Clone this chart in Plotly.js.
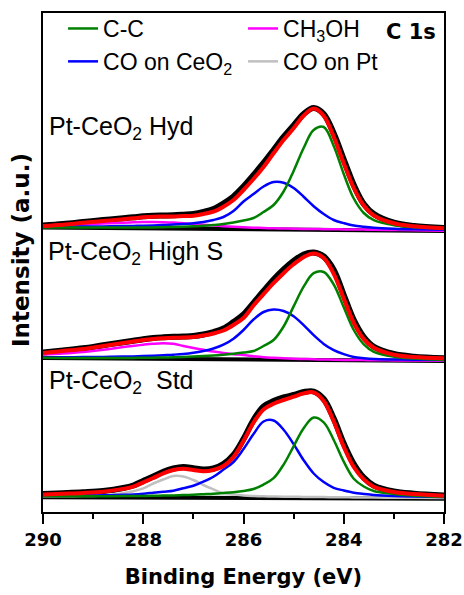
<!DOCTYPE html>
<html>
<head>
<meta charset="utf-8">
<script src="https://cdn.plot.ly/plotly-3.0.1.min.js"></script>
<style>html,body{margin:0;padding:0;background:#fff}#chart{width:464px;height:595px}</style>
</head>
<body>
<div id="chart"></div>
<script>
// Binding energy grid (eV)
const energy = [290, 289.6, 289.2, 288.8, 288.4, 288.2, 288.0, 287.8, 287.6, 287.4, 287.2, 287.0, 286.8, 286.6, 286.4, 286.2, 286.0, 285.8, 285.6, 285.4, 285.2, 285.0, 284.8, 284.6, 284.4, 284.2, 284.0, 283.8, 283.6, 283.4, 283.0, 282.6, 282.0];
const bgEnergy = [290, 282];

// Pt-CeO2 Hyd
const hydData  = [5.5, 7, 9, 11, 12.8, 13.7, 14.7, 15.3, 15.5, 15.7, 16.3, 17, 19, 22, 27.5, 34.5, 44.5, 56, 68, 81, 94, 105.5, 117, 123, 117, 97.5, 71.5, 46, 27, 17, 8.3, 5, 3];
const hydFit   = [5, 6.3, 8.2, 10, 11.8, 12.7, 13.7, 14.3, 14.4, 14.5, 15, 15.3, 17, 19.3, 24.3, 31, 41, 52, 64, 77.7, 91, 102.7, 115.3, 122.5, 115.3, 94.3, 67.7, 43, 25.5, 15.5, 7.7, 4.7, 2.7];
const hydCC    = [3.6, 3.5, 3.4, 3.4, 3.4, 3.5, 3.5, 3.6, 3.8, 4.0, 4.3, 4.7, 5.2, 6, 7, 8.5, 10.5, 13, 19, 26, 39.5, 60, 83, 101, 104, 85, 57, 32.5, 18, 10.8, 5.8, 3.8, 2.7];
const hydCOCe  = [4, 4.2, 4.4, 4.6, 4.9, 5.1, 5.3, 5.6, 6.0, 6.4, 7.0, 7.8, 9, 11, 14, 20, 29.5, 37, 44.5, 49, 48.3, 43, 34.3, 24.8, 17, 11, 7.9, 5.4, 4.2, 3.3, 2.3, 1.7, 1.2];
const hydMeOH  = [4.5, 5.5, 6.5, 7.5, 8.3, 8.7, 9, 9, 8.8, 8.4, 7.8, 7, 6.2, 5.5, 4.8, 4.2, 3.7, 3.3, 3.0, 2.7, 2.5, 2.3, 2.1, 2.0, 1.8, 1.7, 1.6, 1.5, 1.4, 1.3, 1.0, 0.7, 0.3];
const hydBg    = [3.5, 0];

// Pt-CeO2 High S
const hsData   = [8.5, 10.5, 12.7, 15.8, 18.8, 20.3, 21.8, 23, 23.7, 24.2, 24.5, 25, 26.5, 29, 32.5, 39, 46.5, 58, 70, 81.5, 91.5, 100, 106.5, 108.5, 104.5, 91, 66, 41, 24, 14.3, 7, 4.3, 2.8];
const hsFit    = [8, 10, 12, 15, 18, 19.5, 21, 22, 22.7, 23.2, 23.5, 24, 25.5, 27.5, 30.5, 36, 43, 55.5, 66.8, 77.8, 87.8, 96.7, 103.8, 107.5, 103, 87.2, 62.6, 38.2, 21.9, 13.3, 6.3, 4, 2.7];
const hsCC     = [3.2, 3.1, 3.0, 3.0, 3.0, 3.1, 3.2, 3.3, 3.5, 3.7, 4.0, 4.4, 4.9, 5.5, 6.3, 7.3, 8.5, 10, 15, 21, 34.5, 54.6, 74.3, 87.8, 89, 76.5, 53.7, 31, 16.6, 9.2, 4.3, 2.5, 1];
const hsCOCe   = [3.5, 3.7, 3.9, 4.1, 4.4, 4.6, 4.9, 5.3, 5.8, 6.3, 7.0, 8.2, 10, 12.5, 16.3, 22.3, 31, 41.5, 49, 51.5, 50, 44.8, 35.8, 25.8, 17.1, 10.9, 6.9, 4, 2.8, 2, 1.5, 1.2, 1];
const hsMeOH   = [6.5, 7.5, 9, 11.2, 14, 15.2, 16.3, 17.2, 17.7, 17.2, 15, 13, 11.2, 9.4, 7.9, 6.8, 6, 4.8, 3.8, 3.2, 2.7, 2.3, 2.0, 1.7, 1.5, 1.3, 1.1, 1.0, 0.9, 0.8, 0.6, 0.4, 0.2];
const hsBg     = [3, 0];

// Pt-CeO2 Std
const stdData  = [5, 5.8, 6.7, 8, 11, 13.5, 18, 22.5, 27.3, 30.5, 32, 30.8, 29.5, 30.5, 35, 44, 60, 79, 92.5, 98, 101.5, 104, 107, 107.5, 100, 80.5, 55.5, 35, 21.3, 13.3, 7.5, 5.3, 3.5];
const stdFit   = [4.5, 5.2, 6, 7.3, 10.1, 12.3, 16.7, 21, 25.7, 29, 30.3, 29, 27.7, 29, 33, 42, 58, 76.4, 89.6, 95.3, 99, 102.3, 105.6, 106.6, 98, 77.7, 52.3, 32, 19.6, 12.3, 7, 5, 3.3];
const stdCC    = [2.8, 2.8, 2.8, 2.8, 2.9, 3.0, 3.1, 3.2, 3.4, 3.6, 3.9, 4.3, 4.8, 5.3, 6, 6.8, 8, 10, 14.4, 20.8, 34.4, 52.7, 70.8, 81.4, 76.7, 59, 37.4, 20.3, 12.5, 8, 5, 3.3, 2];
const stdCOCe  = [3, 3.2, 3.4, 3.7, 4.2, 4.6, 5.3, 6.3, 7.3, 8.3, 10.7, 13.2, 17.3, 22.3, 29.4, 37, 50, 65, 77.5, 78.5, 69.3, 54.9, 38.8, 25.5, 16.9, 11.2, 8.5, 6.3, 5, 4, 3, 2.5, 2];
const stdCOPt  = [2.6, 2.7, 2.9, 3.5, 5.7, 7.7, 10.6, 15.5, 19.5, 23, 22.5, 19, 14, 9.7, 5.7, 4.5, 3.5, 3.0, 2.7, 2.5, 2.3, 2.2, 2.1, 2.0, 1.9, 1.8, 1.7, 1.6, 1.5, 1.4, 1.3, 1.2, 1.0];
const stdBg    = [1.8, 0.3];

// labels
const panelLabels = ['Pt-CeO<sub>2</sub> Hyd', 'Pt-CeO<sub>2</sub> High S', 'Pt-CeO<sub>2</sub>&nbsp; Std'];
const compNames = {cc: 'C-C', meoh: 'CH<sub>3</sub>OH', coce: 'CO on CeO<sub>2</sub>', copt: 'CO on Pt'};

// stacking offsets (vertical position of each spectrum)
const offsets = {hyd: 281, hs: 151, std: 13};
const labelY = {hyd: 384, hs: 259, std: 130};

const COL = {data: '#000000', fit: '#ff0000', cc: '#008000', coce: '#0000ff', meoh: '#ff00ff', copt: '#c0c0c0', bg: '#000000'};

function shift(arr, off) { return arr.map(v => v + off); }
const traces = [];
function line(x, y, color, width, name, show, rank) {
  traces.push({x: x, y: y, type: 'scatter', mode: 'lines', name: name || '',
    line: {color: color, width: width, shape: 'spline', smoothing: 1},
    showlegend: !!show, legendrank: rank || 1000, hoverinfo: 'skip'});
}
function panel(off, data, fit, cc, coce, third, thirdKey, bg, legendFor) {
  line(energy, shift(data, off), COL.data, 6);
  line(bgEnergy, shift(bg, off), COL.bg, 4);
  line(energy, shift(third, off), COL[thirdKey], 2.5, compNames[thirdKey], legendFor.includes(thirdKey), thirdKey === 'meoh' ? 2 : 4);
  line(energy, shift(coce, off), COL.coce, 2.5, compNames.coce, legendFor.includes('coce'), 3);
  line(energy, shift(cc, off), COL.cc, 2.5, compNames.cc, legendFor.includes('cc'), 1);
  line(energy, shift(fit, off), COL.fit, 4);
}
panel(offsets.hyd, hydData, hydFit, hydCC, hydCOCe, hydMeOH, 'meoh', hydBg, ['cc', 'coce', 'meoh']);
panel(offsets.hs, hsData, hsFit, hsCC, hsCOCe, hsMeOH, 'meoh', hsBg, []);
panel(offsets.std, stdData, stdFit, stdCC, stdCOCe, stdCOPt, 'copt', stdBg, ['copt']);

const layout = {
  width: 464, height: 595,
  margin: {l: 43, r: 20, t: 13, b: 83, autoexpand: false},
  paper_bgcolor: '#fff', plot_bgcolor: '#fff',
  showlegend: true,
  legend: {orientation: 'h', x: 0.05, xanchor: 'left', y: 1.012, yanchor: 'top',
    entrywidth: 135, entrywidthmode: 'pixels', itemwidth: 30,
    font: {family: 'Liberation Sans, Arial', size: 23, color: '#000'},
    bgcolor: 'rgba(0,0,0,0)', borderwidth: 0, traceorder: 'normal'},
  xaxis: {range: [290, 282], autorange: false, tick0: 282, dtick: 2,
    ticks: 'outside', ticklen: 10, tickwidth: 2, tickcolor: '#000',
    showline: true, linewidth: 2, linecolor: '#000', mirror: true,
    showgrid: false, zeroline: false, automargin: false,
    tickfont: {family: 'DejaVu Sans', size: 18, color: '#000', weight: 'bold'},
    minor: {dtick: 1, tick0: 282, ticks: 'outside', ticklen: 5, tickwidth: 2, tickcolor: '#000', showgrid: false},
    title: {text: 'Binding Energy (eV)', font: {family: 'DejaVu Sans', size: 21, color: '#000', weight: 'bold'}, standoff: 21}},
  yaxis: {range: [0, 499], autorange: false, showline: true, linewidth: 2, linecolor: '#000', mirror: true,
    showticklabels: false, ticks: '', showgrid: false, zeroline: false, automargin: false},
  annotations: [
    {text: 'Intensity (a.u.)', textangle: -90, xref: 'paper', yref: 'y', x: -0.055, y: 262, xanchor: 'center', yanchor: 'middle', showarrow: false,
      font: {family: 'DejaVu Sans', size: 23, color: '#000', weight: 'bold'}},
    {text: 'C 1s', xref: 'paper', yref: 'y', x: 0.918, y: 480, xanchor: 'center', yanchor: 'middle', showarrow: false,
      font: {family: 'DejaVu Sans', size: 21, color: '#000', weight: 'bold'}},
    {text: panelLabels[0], xref: 'paper', yref: 'y', x: 0.010, y: labelY.hyd, xanchor: 'left', yanchor: 'middle', showarrow: false,
      font: {family: 'Liberation Sans, Arial', size: 25, color: '#000'}},
    {text: panelLabels[1], xref: 'paper', yref: 'y', x: 0.008, y: labelY.hs, xanchor: 'left', yanchor: 'middle', showarrow: false,
      font: {family: 'Liberation Sans, Arial', size: 25, color: '#000'}},
    {text: panelLabels[2], xref: 'paper', yref: 'y', x: 0.010, y: labelY.std, xanchor: 'left', yanchor: 'middle', showarrow: false,
      font: {family: 'Liberation Sans, Arial', size: 25, color: '#000'}}
  ]
};
Plotly.newPlot('chart', traces, layout, {displayModeBar: false, staticPlot: true});
</script>
</body>
</html>
